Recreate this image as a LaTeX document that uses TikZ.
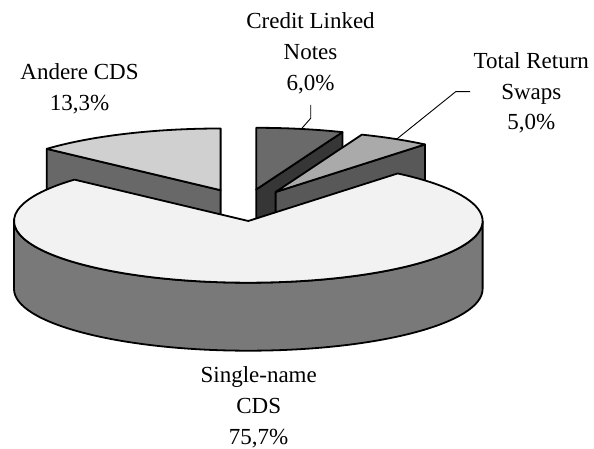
\documentclass[tikz,border=0pt]{standalone}
\usepackage{fontspec}
\setmainfont{Liberation Serif}
\definecolor{mainTop}{HTML}{F2F2F2}
\definecolor{mainSide}{HTML}{797979}
\definecolor{andTop}{HTML}{D0D0D0}
\definecolor{andSide}{HTML}{686868}
\definecolor{creTop}{HTML}{6A6A6A}
\definecolor{creSide}{HTML}{363636}
\definecolor{trsTop}{HTML}{AAAAAA}
\definecolor{trsSide}{HTML}{585858}
\def\prx{234.3}
\def\pry{61.7}
\def\pdep{68}
\begin{document}
\begin{tikzpicture}[x=1pt,y=1pt,
  face/.style={draw=black,line width=1.8pt,line join=round},
  leader/.style={draw=black,line width=0.9pt},
  lbl/.style={inner sep=0pt,align=center,font=\fontsize{23}{30.7}\selectfont}]
\useasboundingbox (0,0) rectangle (594,449);
% centres
\coordinate (M) at (248.3,228);
\coordinate (A) at (220.6,258.8);
\coordinate (Ab) at (220.6,190.8);
\coordinate (K) at (256.2,259.5);
\coordinate (Kb) at (256.2,191.5);
\coordinate (T) at (275.6,257);
\coordinate (Tb) at (275.6,189);
% Andere CDS
\filldraw[face,fill=andSide] (A) -- ++(137.9:234.3 and 61.7) -- ++(0,-\pdep) -- (Ab) -- cycle;
\filldraw[face,fill=andTop] (A) -- ++(90:234.3 and 61.7)
  arc[start angle=90,end angle=137.9,x radius=\prx,y radius=\pry] -- cycle;
% Credit Linked Notes
\filldraw[face,fill=creSide] (K) -- ++(68.4:234.3 and 61.7) -- ++(0,-\pdep) -- (Kb) -- cycle;
\filldraw[face,fill=creTop] (K) -- ++(90:234.3 and 61.7)
  arc[start angle=90,end angle=68.4,x radius=\prx,y radius=\pry] -- cycle;
% Total Return Swaps
\filldraw[face,fill=trsSide] (T) -- ++(50.4:234.3 and 61.7) -- ++(0,-\pdep) -- (Tb) -- cycle;
\filldraw[face,fill=trsTop] (T) -- ++(68.4:234.3 and 61.7)
  arc[start angle=68.4,end angle=50.4,x radius=\prx,y radius=\pry] -- cycle;
% Single-name CDS
\filldraw[face,fill=mainSide] (M) ++(180:234.3 and 61.7)
  arc[start angle=180,end angle=360,x radius=\prx,y radius=\pry] -- ++(0,-\pdep)
  arc[start angle=0,end angle=-180,x radius=\prx,y radius=\pry] -- cycle;
\filldraw[face,fill=mainTop] (M) -- ++(50.4:234.3 and 61.7)
  arc[start angle=50.4,end angle=-222.1,x radius=\prx,y radius=\pry] -- cycle;
% labels
\node[lbl] (lAnd) at (79.5,360.5) {Andere CDS\\13,3\%};
\node[lbl] (lCre) at (310.5,395.7) {Credit Linked\\Notes\\6,0\%};
\node[lbl] (lTrs) at (531.3,356.2) {Total Return\\Swaps\\5,0\%};
\node[lbl] (lSin) at (258.7,41.6) {Single-name\\CDS\\75,7\%};
% leader lines
\path (K) ++(78.9:234.3 and 61.7) coordinate (kl);
\coordinate (kt) at (310.7,344);
\coordinate (km) at (310.7,330.7);
\draw[leader] (kt) -- (km) -- (kl);
\path (T) ++(58.9:234.3 and 61.7) coordinate (tl);
\coordinate (tt) at (470,357.3);
\coordinate (tm) at (455.7,357.3);
\draw[leader] (tt) -- (tm) -- (tl);
\end{tikzpicture}
\end{document}
